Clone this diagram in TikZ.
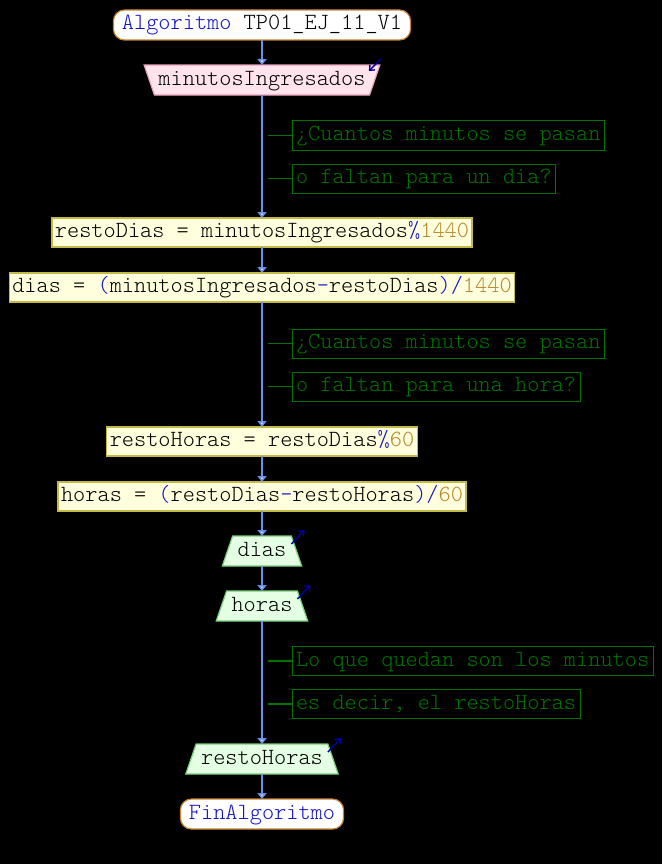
\documentclass[tikz,border=0pt]{standalone}
\usepackage{fontspec}
\setmonofont{lmmonolt10-regular}[Extension=.otf]
\usepackage{tikz}
\usetikzlibrary{positioning,shapes.geometric,arrows.meta}

\definecolor{flowline}{RGB}{105,145,235}
\definecolor{tipfill}{RGB}{215,228,255}
\definecolor{kwblue}{RGB}{20,20,200}
\definecolor{numbrown}{RGB}{185,135,45}
\definecolor{termborder}{RGB}{200,130,50}
\definecolor{asgfill}{RGB}{255,255,222}
\definecolor{asgborder}{RGB}{195,185,70}
\definecolor{infill}{RGB}{255,228,238}
\definecolor{inborder}{RGB}{235,160,190}
\definecolor{outfill}{RGB}{228,255,228}
\definecolor{outborder}{RGB}{120,205,120}
\definecolor{notegreen}{RGB}{0,115,0}
\definecolor{iotipblue}{RGB}{0,0,165}

\newcommand{\opr}[1]{\textcolor{kwblue}{#1}}
\newcommand{\numtxt}[1]{\textcolor{numbrown}{#1}}

\begin{document}
\begin{tikzpicture}[%
        x=1pt, y=-1pt,
        ->,
        >={Triangle[width=9pt,length=6pt,fill=tipfill]},
        node distance=25pt,
        font=\fontsize{23.2}{24}\selectfont\ttfamily,
        every node/.style={text height=15.5pt, text depth=5.5pt, outer sep=0pt},
        term/.style={%
          rectangle, rounded corners=11pt,
          draw=termborder, line width=1.2pt, fill=white,
          inner xsep=8.5pt, inner ysep=4.5pt
        },
        asg/.style={%
          rectangle, draw=asgborder, line width=1.2pt, fill=asgfill,
          inner xsep=3pt, inner ysep=4pt
        },
        entrada/.style={%
          trapezium, trapezium angle=71, shape border rotate=180,
          draw=inborder, line width=1.2pt, fill=infill,
          inner xsep=4pt, inner ysep=4.5pt
        },
        salida/.style={%
          trapezium, trapezium angle=71,
          draw=outborder, line width=1.2pt, fill=outfill,
          inner xsep=5pt, inner ysep=4.5pt
        },
        nota/.style={%
          rectangle, draw=notegreen, line width=1pt, text=notegreen,
          inner xsep=4pt, inner ysep=4pt, anchor=west
        },
        notaline/.style={-, draw=notegreen, line width=1.6pt},
        flujo/.style={draw=flowline, line width=1.6pt},
        iotip/.style={-{Straight Barb[length=4pt,width=7pt]}, draw=iotipblue, line width=1.4pt}
      ]
      \fill[black] (0,0) rectangle (662,864);
      \useasboundingbox (0,0) rectangle (662,864);

      \node[term] (start) at (262,25) {\opr{Algoritmo} TP01\_EJ\_11\_V1};
      \node[entrada] (leer) [below=of start] {minutosIngresados};
      \node[asg] (asgResto) [below=123pt of leer] {restoDias = minutosIngresados\opr{\%}\numtxt{1440}};
      \node[asg] (asgDias) [below=26pt of asgResto] {dias = \opr{(}minutosIngresados\opr{-}restoDias\opr{)/}\numtxt{1440}};
      \node[asg] (asgRestoH) [below=125pt of asgDias] {restoHoras = restoDias\opr{\%}\numtxt{60}};
      \node[asg] (asgHoras) [below=26pt of asgRestoH] {horas = \opr{(}restoDias\opr{-}restoHoras\opr{)/}\numtxt{60}};
      \node[salida] (outDias) [below=of asgHoras] {dias};
      \node[salida] (outHoras) [below=of outDias] {horas};
      \node[salida] (outResto) [below=123pt of outHoras] {restoHoras};
      \node[term] (fin) [below=of outResto] {\opr{FinAlgoritmo}};

      % comentarios
      \node[nota] (c1) at (292,135.5) {¿Cuantos minutos se pasan};
      \node[nota] (c2) at (292,178.5) {o faltan para un dia?};
      \node[nota] (c3) at (292,343.5) {¿Cuantos minutos se pasan};
      \node[nota] (c4) at (292,386.5) {o faltan para una hora?};
      \node[nota] (c5) at (292,661) {Lo que quedan son los minutos};
      \node[nota] (c6) at (292,704) {es decir, el restoHoras};
      \foreach \c/\yy in {c1/135.5,c2/178.5,c3/343.5,c4/386.5,c5/661,c6/704}
        \coordinate (\c l) at (268,\yy);

      \path (start) edge [flujo] node {} (leer)
      (leer) edge [flujo] node {} (asgResto)
      (asgResto) edge [flujo] node {} (asgDias)
      (asgDias) edge [flujo] node {} (asgRestoH)
      (asgRestoH) edge [flujo] node {} (asgHoras)
      (asgHoras) edge [flujo] node {} (outDias)
      (outDias) edge [flujo] node {} (outHoras)
      (outHoras) edge [flujo] node {} (outResto)
      (outResto) edge [flujo] node {} (fin);

      \foreach \c in {c1,c2,c3,c4,c5,c6}
        \draw[notaline] (\c l) -- (\c);

      % flechas de entrada/salida
      \draw[iotip] ([shift={(1,-6)}]leer.bottom left corner) -- ++(-12,12);
      \foreach \o in {outDias,outHoras,outResto}
        \draw[iotip] ([shift={(0,8)}]\o.top right corner) -- ++(13,-14);
    \end{tikzpicture}
\end{document}
